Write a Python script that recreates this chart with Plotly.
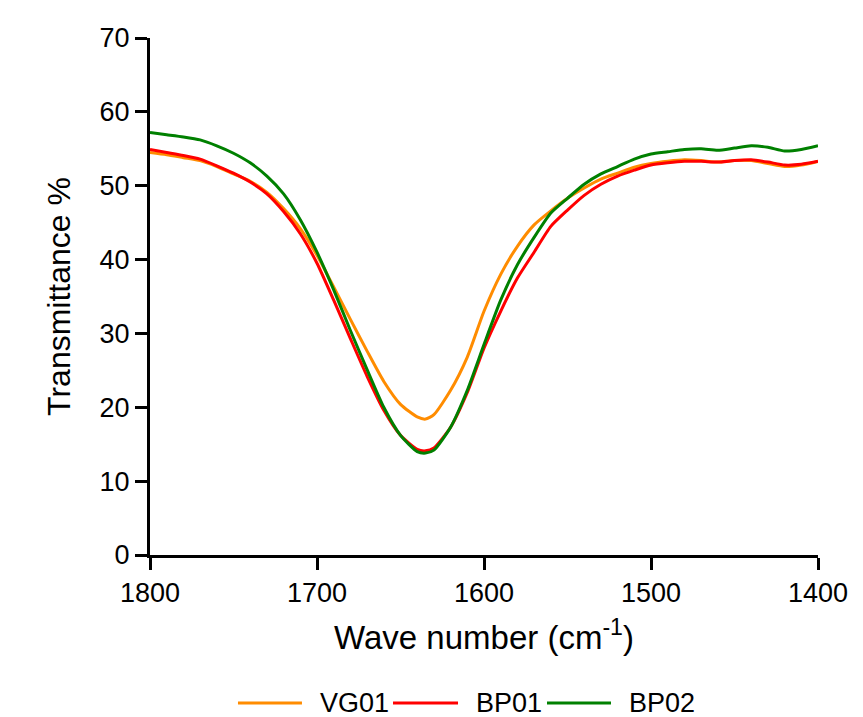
import plotly.graph_objects as go

wavenumber = [1800, 1790, 1780, 1770, 1760, 1750, 1740, 1730, 1720, 1710, 1700,
              1690, 1680, 1670, 1660, 1650, 1640, 1635, 1630, 1620, 1610, 1600,
              1590, 1580, 1570, 1560, 1550, 1540, 1530, 1520, 1510, 1500,
              1490, 1480, 1470, 1460, 1450, 1440, 1430, 1420, 1410, 1400]

vg01 = [54.5, 54.2, 53.8, 53.4, 52.6, 51.6, 50.6, 49.1, 46.9, 44.2, 40.6,
        36.3, 31.9, 27.6, 23.5, 20.4, 18.7, 18.4, 19.0, 22.3, 26.8, 33.0,
        38.0, 41.8, 44.7, 46.6, 48.3, 49.7, 50.9, 51.7, 52.5, 53.0,
        53.3, 53.5, 53.4, 53.2, 53.4, 53.4, 53.0, 52.6, 52.8, 53.3]

bp01 = [54.9, 54.5, 54.1, 53.6, 52.7, 51.7, 50.5, 48.9, 46.5, 43.5, 39.5,
        34.5, 29.3, 24.2, 19.6, 16.2, 14.3, 14.1, 14.5, 17.3, 22.0, 28.0,
        33.0, 37.5, 41.0, 44.5, 46.7, 48.7, 50.2, 51.3, 52.1, 52.8,
        53.1, 53.3, 53.3, 53.2, 53.4, 53.5, 53.2, 52.8, 52.9, 53.3]

bp02 = [57.2, 56.9, 56.6, 56.2, 55.4, 54.4, 53.1, 51.3, 48.9, 45.4, 41.0,
        35.9, 30.4, 25.1, 20.0, 16.2, 14.0, 13.8, 14.2, 17.3, 22.3, 28.5,
        34.5, 39.3, 43.0, 46.3, 48.3, 50.2, 51.6, 52.6, 53.6, 54.3,
        54.6, 54.9, 55.0, 54.8, 55.1, 55.4, 55.2, 54.7, 54.9, 55.4]

series_names = ["VG01", "BP01", "BP02"]
series_values = [vg01, bp01, bp02]
series_colors = ["#FF8C00", "#FF0000", "#008000"]

x_ticks = [1800, 1700, 1600, 1500, 1400]
y_ticks = [0, 10, 20, 30, 40, 50, 60, 70]

FONT = "Arial, Liberation Sans, sans-serif"

fig = go.Figure()
for name, vals, col in zip(series_names, series_values, series_colors):
    fig.add_trace(go.Scatter(x=wavenumber, y=vals, mode="lines", name=name,
                             line=dict(color=col, width=3, shape="spline", smoothing=0.6)))

# custom legend row below the axis (line sample + label per series)
legend_line_x = [(0.1317, 0.2275), (0.3638, 0.4611), (0.5943, 0.6901)]
legend_y = -0.2865
shapes = []
annotations = []
for (x0, x1), name, col in zip(legend_line_x, series_names, series_colors):
    shapes.append(dict(type="line", xref="paper", yref="paper", x0=x0, x1=x1,
                       y0=legend_y, y1=legend_y, line=dict(color=col, width=3)))
    annotations.append(dict(xref="paper", yref="paper", x=x1 + 0.024, y=legend_y,
                            xanchor="left", yanchor="middle", showarrow=False, text=name,
                            font=dict(size=27, family=FONT, color="black")))

fig.update_layout(
    width=855, height=709,
    margin=dict(l=142, r=45, t=30, b=162),
    paper_bgcolor="white", plot_bgcolor="white",
    font=dict(family=FONT, color="black"),
    showlegend=False,
    shapes=shapes,
    annotations=annotations,
    xaxis=dict(range=[1800, 1400], tickvals=x_ticks, ticks="outside", ticklen=12,
               tickwidth=3, tickcolor="black", showline=True, linewidth=3, linecolor="black",
               showgrid=False, zeroline=False, tickfont=dict(size=27, family=FONT),
               title=dict(text="Wave number (cm<sup>-1</sup>)", font=dict(size=33, family=FONT),
                          standoff=19)),
    yaxis=dict(range=[0, 70], tickvals=y_ticks, ticks="outside", ticklen=12,
               tickwidth=3, tickcolor="black", showline=True, linewidth=3, linecolor="black",
               showgrid=False, zeroline=False, tickfont=dict(size=27, family=FONT),
               title=dict(text="Transmittance %", font=dict(size=32, family=FONT),
                          standoff=20)),
)

fig.write_html("out.html")
